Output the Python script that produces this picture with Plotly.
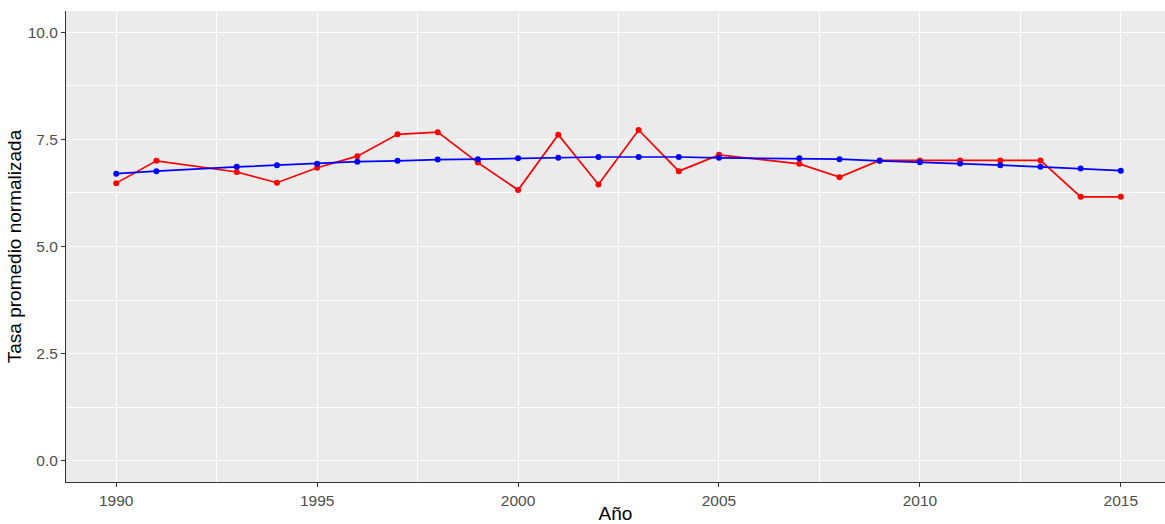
import plotly.graph_objects as go

years = [1990, 1991, 1993, 1994, 1995, 1996, 1997, 1998, 1999, 2000, 2001, 2002,
         2003, 2004, 2005, 2007, 2008, 2009, 2010, 2011, 2012, 2013, 2014, 2015]
tasa_red = [6.48, 7.00, 6.74, 6.49, 6.84, 7.11, 7.62, 7.67, 6.96, 6.32, 7.61, 6.45,
            7.72, 6.76, 7.14, 6.93, 6.62, 7.01, 7.01, 7.01, 7.01, 7.01, 6.16, 6.16]
tasa_blue = [6.70, 6.76, 6.86, 6.90, 6.93, 6.98, 7.00, 7.03, 7.04, 7.06, 7.07, 7.09,
             7.09, 7.09, 7.07, 7.06, 7.04, 7.00, 6.97, 6.94, 6.90, 6.86, 6.82, 6.77]
x_ticks = [1990, 1995, 2000, 2005, 2010, 2015]
y_ticks = [0.0, 2.5, 5.0, 7.5, 10.0]
y_tick_labels = ["0.0", "2.5", "5.0", "7.5", "10.0"]

fig = go.Figure()
fig.add_trace(go.Scatter(x=years, y=tasa_red, mode="lines+markers",
                         line=dict(color="#FF0000", width=1.7),
                         marker=dict(color="#FF0000", size=6), showlegend=False))
fig.add_trace(go.Scatter(x=years, y=tasa_blue, mode="lines+markers",
                         line=dict(color="#0000FF", width=1.7),
                         marker=dict(color="#0000FF", size=6), showlegend=False))

font_family = "Liberation Sans, Arial, sans-serif"
fig.update_layout(
    width=1165, height=524,
    margin=dict(l=66, r=0, t=11, b=36),
    paper_bgcolor="white", plot_bgcolor="#EBEBEB",
    font=dict(family=font_family),
    xaxis=dict(range=[1988.75, 2016.1], tickvals=x_ticks, ticktext=[str(v) for v in x_ticks],
               showgrid=True, gridcolor="white", gridwidth=1.1,
               minor=dict(dtick=2.5, tick0=1990, showgrid=True, gridcolor="white", gridwidth=0.5),
               ticks="outside", ticklen=4, tickcolor="#333333", tickwidth=1,
               showline=True, linecolor="#333333", linewidth=1.1,
               zeroline=False, tickfont=dict(size=15.5, color="#4D4D4D"),
               title=dict(text="Año", font=dict(size=19, color="black"), standoff=2)),
    yaxis=dict(range=[-0.5, 10.5], tickvals=y_ticks, ticktext=y_tick_labels,
               showgrid=True, gridcolor="white", gridwidth=1.1,
               minor=dict(dtick=1.25, tick0=0, showgrid=True, gridcolor="white", gridwidth=0.5),
               ticks="outside", ticklen=4, tickcolor="#333333", tickwidth=1,
               showline=True, linecolor="#333333", linewidth=1.1,
               zeroline=False, tickfont=dict(size=15.5, color="#4D4D4D"),
               title=dict(text="Tasa promedio normalizada", font=dict(size=19, color="black"), standoff=1)),
)
fig.write_html("out.html", config={"displayModeBar": False},
               post_script="document.body.style.margin='0px';document.body.style.overflow='hidden';")
